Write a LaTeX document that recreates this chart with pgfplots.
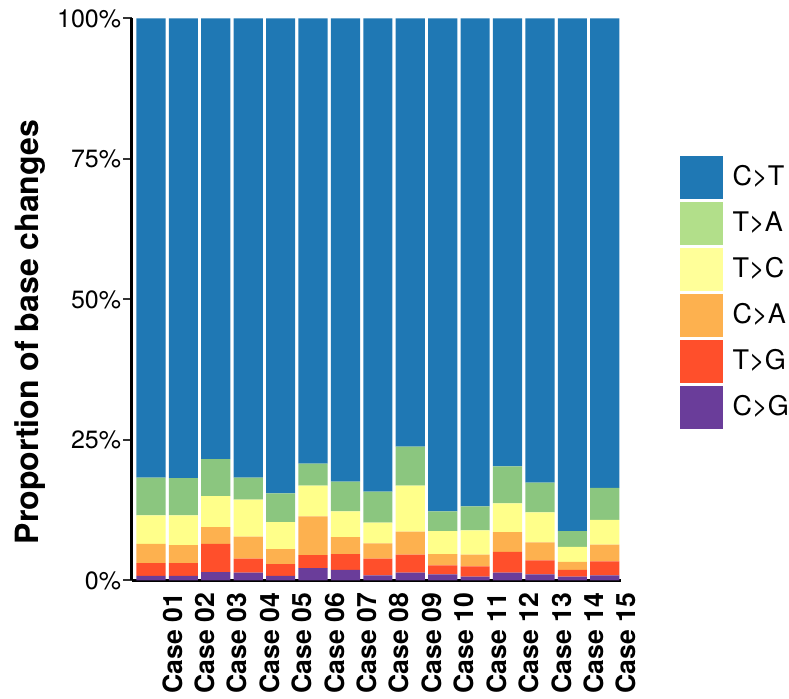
\documentclass[border=0pt]{standalone}
\usepackage{pgfplots}
\pgfplotsset{compat=1.18}
\usepackage{pgfplotstable}
\usepackage{fontspec}
\setmainfont{TeX Gyre Heros}

\definecolor{cCT}{HTML}{1F78B4}
\definecolor{cTA}{HTML}{8BC67F}
\definecolor{cTAkey}{HTML}{B2DF8A}
\definecolor{cTC}{HTML}{FFFF8A}
\definecolor{cTCkey}{HTML}{FFFF99}
\definecolor{cCA}{HTML}{FDB14F}
\definecolor{cTG}{HTML}{FF4F2B}
\definecolor{cCG}{HTML}{6A3D9A}

% proportion (%) of each base change per case
\pgfplotstableread{
x  CG   TG   CA   TC   TA   CT
1  0.8  2.3  3.4  5.1  6.7  81.7
2  0.8  2.3  3.2  5.3  6.6  81.8
3  1.5  5.0  3.0  5.5  6.6  78.4
4  1.4  2.5  3.9  6.6  3.9  81.7
5  0.8  2.1  2.7  4.8  5.1  84.5
6  2.2  2.3  6.9  5.5  3.9  79.2
7  1.9  2.8  3.0  4.6  5.3  82.4
8  0.9  3.0  2.7  3.7  5.5  84.2
9  1.4  3.2  4.1  8.2  6.9  76.2
10 1.1  1.6  2.0  4.1  3.5  87.7
11 0.7  1.8  2.1  4.3  4.3  86.8
12 1.4  3.7  3.5  5.1  6.6  79.7
13 1.1  2.5  3.2  5.3  5.3  82.6
14 0.7  1.2  1.4  2.7  2.8  91.2
15 0.9  2.5  3.0  4.4  5.7  83.5
}\basechanges

\begin{document}
\begin{tikzpicture}
\useasboundingbox (0,0) rectangle (394.5pt,349.5pt);
\begin{axis}[
  at={(65.75pt,59.25pt)}, anchor=south west,
  scale only axis, width=244.75pt, height=281pt,
  ybar stacked, bar width=0.9,
  xmin=0.4, xmax=15.5, ymin=0, ymax=100,
  enlargelimits=false,
  axis lines=left,
  axis line style={-, line width=1.3pt, black},
  xtick={1,...,15},
  xticklabels={Case 01,Case 02,Case 03,Case 04,Case 05,Case 06,Case 07,Case 08,Case 09,Case 10,Case 11,Case 12,Case 13,Case 14,Case 15},
  xtick style={draw=none},
  % rotated labels: yshift moves them sideways on the page
  xticklabel style={rotate=90, anchor=north east, inner sep=2pt, yshift=-3.5pt,
    font=\fontsize{13.3}{13.3}\selectfont\bfseries},
  ytick={0,25,50,75,100},
  yticklabels={0\%,25\%,50\%,75\%,100\%},
  tick align=outside,
  major tick length=4pt,
  ytick style={line width=1pt, black!80},
  yticklabel style={font=\fontsize{12.5}{12.5}\selectfont, inner sep=1pt},
  ylabel={Proportion of base changes},
  every axis y label/.style={at={(axis description cs:-0.208,0.442)}, rotate=90,
    anchor=center, font=\fontsize{16}{16}\selectfont\bfseries},
  legend image code/.code={\fill[#1] (0pt,-11pt) rectangle (21.5pt,10.5pt);},
  legend style={at={(axis description cs:1.119,0.7553)}, anchor=north west,
    draw=none, fill=none, inner sep=0pt, row sep=1.5pt, column sep=5pt,
    font=\fontsize{13.5}{13.5}\selectfont, nodes={inner sep=0pt}},
  legend cell align=left,
]
\addplot[fill=cCG, draw=none, forget plot] table[x=x, y=CG] {\basechanges};
\addplot[fill=cTG, draw=none, forget plot] table[x=x, y=TG] {\basechanges};
\addplot[fill=cCA, draw=none, forget plot] table[x=x, y=CA] {\basechanges};
\addplot[fill=cTC, draw=none, forget plot] table[x=x, y=TC] {\basechanges};
\addplot[fill=cTA, draw=none, forget plot] table[x=x, y=TA] {\basechanges};
\addplot[fill=cCT, draw=none, forget plot] table[x=x, y=CT] {\basechanges};
\addlegendimage{fill=cCT, draw=none}
\addlegendentry{C>T}
\addlegendimage{fill=cTAkey, draw=none}
\addlegendentry{T>A}
\addlegendimage{fill=cTCkey, draw=none}
\addlegendentry{T>C}
\addlegendimage{fill=cCA, draw=none}
\addlegendentry{C>A}
\addlegendimage{fill=cTG, draw=none}
\addlegendentry{T>G}
\addlegendimage{fill=cCG, draw=none}
\addlegendentry{C>G}
\end{axis}
\end{tikzpicture}
\end{document}
